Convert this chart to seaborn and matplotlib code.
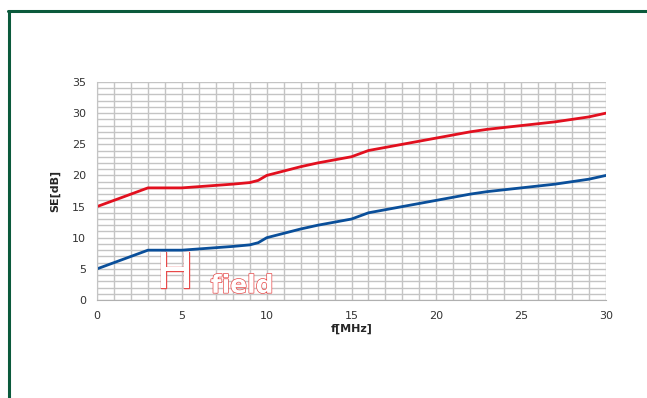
import numpy as np
import pandas as pd
import matplotlib
matplotlib.use("Agg")
import matplotlib.pyplot as plt
import matplotlib.patheffects as pe
from matplotlib.lines import Line2D
import seaborn as sns

# values
freq = [0, 1, 2, 3, 4, 5, 6, 7, 8, 9, 9.5, 10, 11, 12, 13, 14, 15, 16, 17, 18, 19,
        20, 21, 22, 23, 24, 25, 26, 27, 28, 29, 30]
se_red = [15, 16, 17, 18, 18, 18, 18.2, 18.4, 18.6, 18.85, 19.2, 20, 20.7, 21.4, 22, 22.5,
          23, 24, 24.5, 25, 25.5, 26, 26.5, 27, 27.4, 27.7, 28, 28.3, 28.6, 29, 29.4, 30]
se_blue = [5, 6, 7, 8, 8, 8, 8.2, 8.4, 8.6, 8.85, 9.2, 10, 10.7, 11.4, 12, 12.5,
           13, 14, 14.5, 15, 15.5, 16, 16.5, 17, 17.4, 17.7, 18, 18.3, 18.6, 19, 19.4, 20]
x_ticks = [0, 5, 10, 15, 20, 25, 30]
y_ticks = [0, 5, 10, 15, 20, 25, 30, 35]

df = pd.DataFrame({
    "f": freq * 2,
    "SE": se_red + se_blue,
    "series": ["red"] * len(freq) + ["blue"] * len(freq),
})

sns.set_style("white")
plt.rcParams["font.family"] = ["Liberation Sans Narrow", "DejaVu Sans"]

fig = plt.figure(figsize=(6.47, 3.98), dpi=100)
ax = fig.add_axes([0.15, 0.2462, 0.7866, 0.5478])

ax.set_xticks(np.arange(0, 31, 1), minor=True)
ax.set_yticks(np.arange(0, 36, 1), minor=True)
ax.grid(which="both", color="#c4c4c4", linewidth=1.0)
ax.set_axisbelow(True)

sns.lineplot(data=df, x="f", y="SE", hue="series",
             palette={"red": "#e2101f", "blue": "#0a4f9a"},
             linewidth=2.0, legend=False, ax=ax)

ax.set_xlim(0, 30)
ax.set_ylim(0, 35)
ax.set_xticks(x_ticks)
ax.set_yticks(y_ticks)
ax.set_xticklabels([str(t) for t in x_ticks])
ax.set_yticklabels([str(t) for t in y_ticks])
ax.tick_params(which="major", length=4, width=0.8, color="#b0b0b0",
               labelsize=8, labelcolor="#333333", pad=4)
ax.tick_params(which="minor", length=0)
for s in ax.spines.values():
    s.set_visible(False)
ax.spines["bottom"].set_visible(True)
ax.spines["bottom"].set_color("#b0b0b0")
ax.spines["left"].set_visible(True)
ax.spines["left"].set_color("#c4c4c4")

ax.set_xlabel("f[MHz]", fontsize=8, fontweight="bold", labelpad=2)
ax.set_ylabel("SE[dB]", fontsize=8, fontweight="bold", labelpad=8)

# outlined "H field" watermark
outline = [pe.Stroke(linewidth=1.0, foreground="#e84a4a"), pe.Normal()]
ax.text(3.5, 0.25, "H", fontsize=36, color="white", family="DejaVu Sans",
        path_effects=outline, va="bottom", ha="left", zorder=1.5)
ax.text(6.7, 0.35, "field", fontsize=18, color="white", family="DejaVu Sans",
        fontweight="bold", path_effects=outline, va="bottom", ha="left", zorder=1.5)

# green frame along the top and left edges
green = "#0b5a3c"
fig.add_artist(Line2D([9 / 647, 9 / 647], [0, 1 - 11 / 398], color=green,
                      linewidth=2.2, transform=fig.transFigure))
fig.add_artist(Line2D([8 / 647, 1], [1 - 11 / 398, 1 - 11 / 398], color=green,
                      linewidth=2.2, transform=fig.transFigure))

fig.savefig("out.png", dpi=100)
